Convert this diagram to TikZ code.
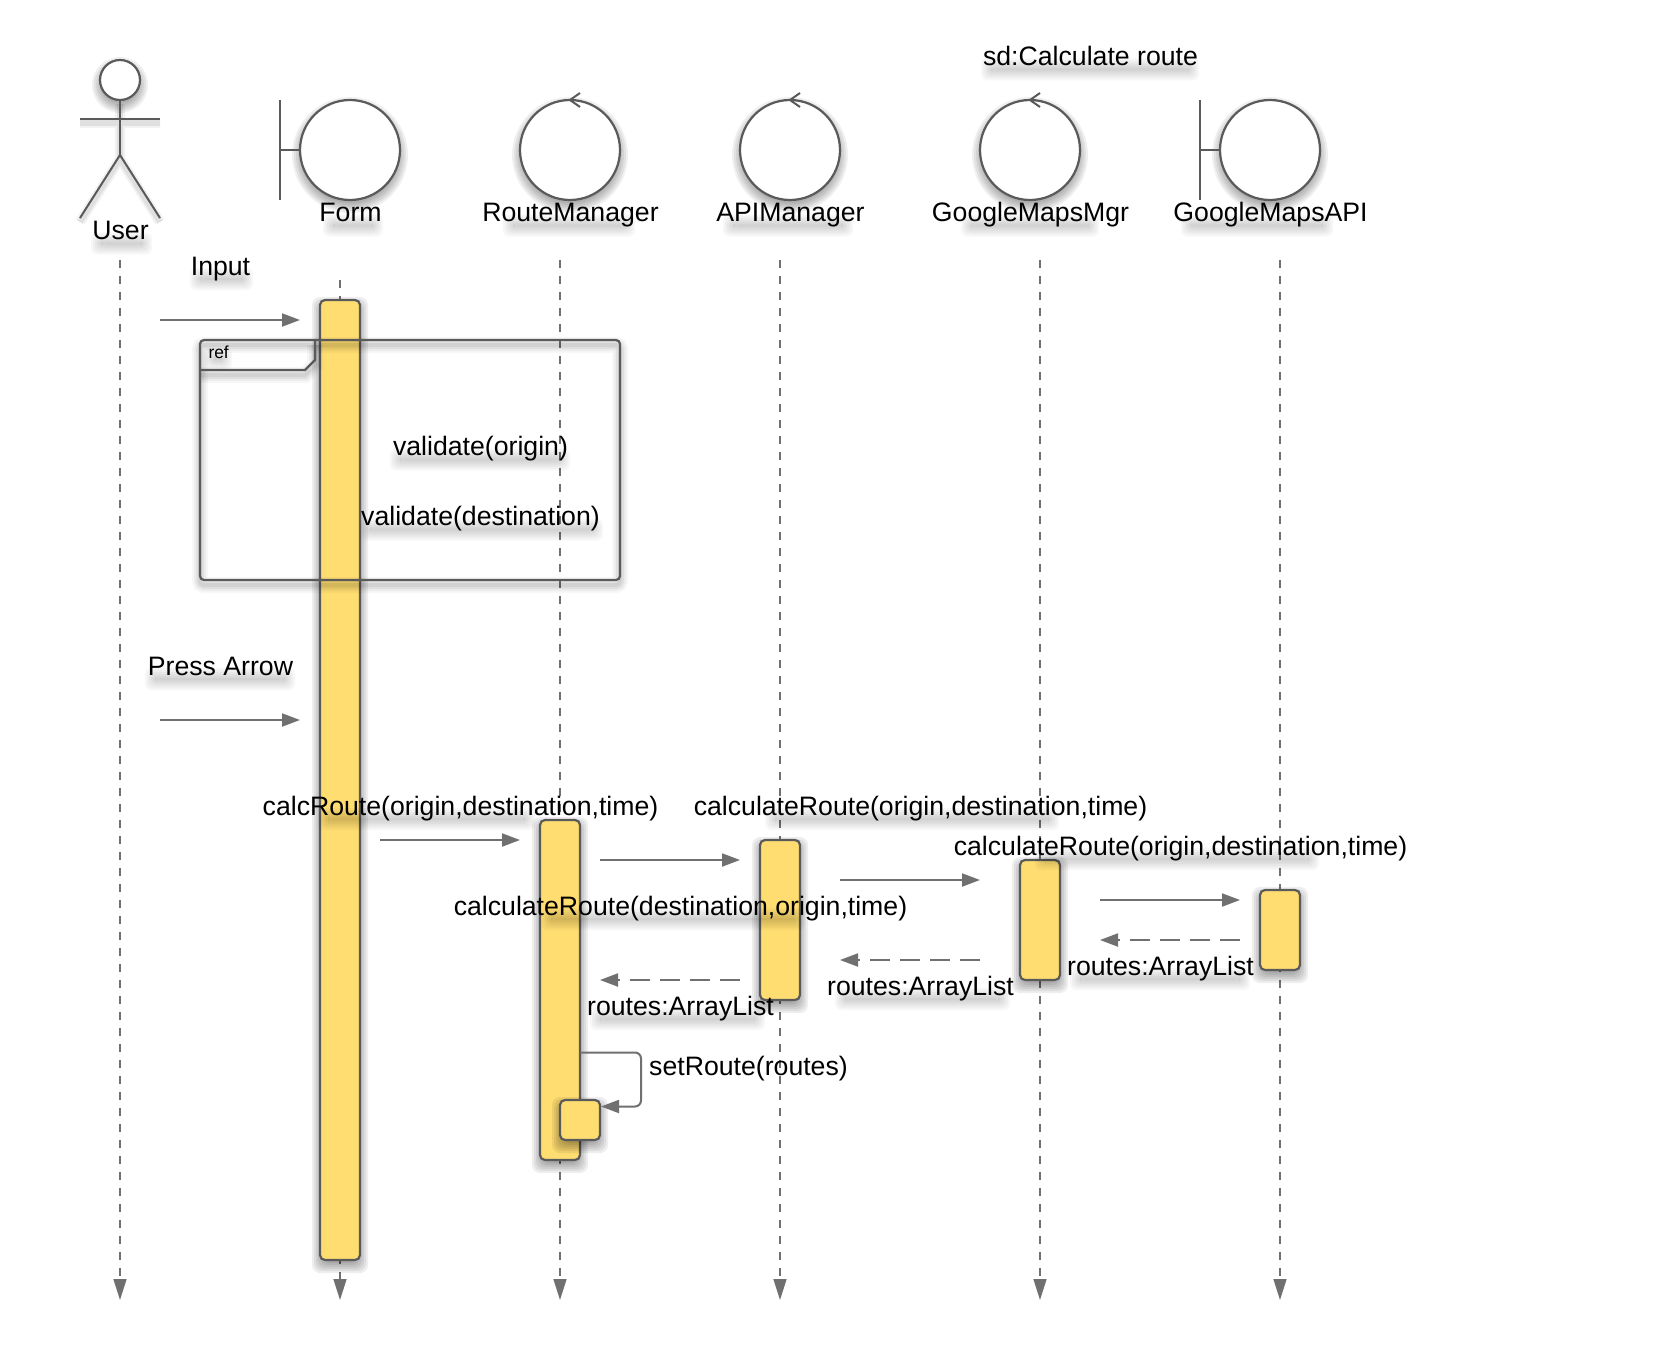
\documentclass[tikz,border=0pt]{standalone}
\usepackage{fontspec}
\setmainfont{Liberation Sans}
\usetikzlibrary{arrows.meta}
\definecolor{barfill}{HTML}{FFDD71}
\definecolor{edgecol}{HTML}{5A5A5A}
\definecolor{msgcol}{HTML}{707070}
\pgfdeclarelayer{bg}
\pgfdeclarelayer{tshad}
\pgfsetlayers{bg,tshad,main}
\tikzset{
  lifeline/.style={draw=msgcol,line width=.75pt,dash pattern=on 4pt off 4pt,-{Triangle[length=10.5pt,width=6.5pt]}},
  msg/.style={draw=msgcol,line width=1pt,-{Triangle[length=9pt,width=6.5pt]}},
  ret/.style={msg,dash pattern=on 10pt off 5pt},
  actbox/.style={draw=edgecol,line width=1.1pt,fill=barfill,rounded corners=2.5pt,inner sep=0pt,outer sep=0pt},
  lifecirc/.style={circle,draw=edgecol,line width=1.1pt,fill=white,minimum size=50pt,inner sep=0pt,outer sep=0pt},
  figline/.style={draw=edgecol,line width=1pt},
  framebox/.style={draw=edgecol,line width=1.1pt,rounded corners=2pt},
  lbl/.style={anchor=base,inner sep=0pt,outer sep=0pt,text=black,font=\fontsize{13.33}{16}\selectfont},
  smalllbl/.style={anchor=base west,inner sep=0pt,outer sep=0pt,text=black,font=\fontsize{8.7}{10}\selectfont},
}
% soft drop shadow of a rectangle
\newcommand\softrect[4]{%
  \foreach \g in {8,6,4,2,0,-2,-4,-6}{%
    \fill[black,fill opacity=.065,rounded corners=4pt] ({#1-\g},{#2-\g+5}) rectangle ({#3+\g},{#4+\g+5});}}
% soft drop shadow of a circle
\newcommand\softcirc[3]{%
  \foreach \g in {8,6,4,2,0,-2,-4,-6}{%
    \fill[black,fill opacity=.06] (#1,{#2+5}) circle[radius={#3+\g}];}}
% soft band under a label
\newcommand\softband[3]{%
  \begin{pgfonlayer}{tshad}
  \foreach \g in {7,5,3,1,-1,-3}{%
    \fill[black,fill opacity=.032,rounded corners=3pt] ({#1-\g},{#3-\g}) rectangle ({#2+\g},{#3+8+\g});}
  \end{pgfonlayer}}
\newcommand\actbar[5]{%
  \softrect{#2}{#3}{#4}{#5}%
  \pgfmathsetmacro\bw{(#4-#2)/2}\pgfmathsetmacro\bh{(#5-#3)/2}%
  \node[actbox,minimum width=\bw pt,minimum height=\bh pt,anchor=north west] (#1) at (#2,#3) {};}
% name, cx, baseline, shadow from, shadow to, text
\newcommand\lab[6]{%
  \softband{#4}{#5}{#3}%
  \node[lbl] (#1) at (#2,#3) {#6};}
\newcommand\ctrlobj[2]{% name, cx
  \softcirc{#2}{150}{50}%
  \node[lifecirc] (#1) at (#2,150) {};
  \draw[figline] ({#2+10},93) -- (#1.north) -- ({#2+10},107);}
\newcommand\bndobj[2]{% name, cx
  \softcirc{#2}{150}{50}%
  \node[lifecirc] (#1) at (#2,150) {};
  \coordinate (#1t) at ({#2-70},100);
  \coordinate (#1b) at ({#2-70},200);
  \coordinate (#1m) at ({#2-70},150);
  \draw[figline,line width=.8pt] (#1t) -- (#1b);
  \draw[figline] (#1m) -- (#1.west);}
\begin{document}
\begin{tikzpicture}[x=.5pt,y=-.5pt]
\useasboundingbox (0,0) rectangle (1660,1354);
\begin{pgfonlayer}{bg}
\fill[white] (0,0) rectangle (1660,1354);

% lifelines
\foreach \n/\x/\t in {a/120/260,b/340/280,c/560/260,d/780/260,e/1040/260,f/1280/260}{
  \coordinate (ls\n) at (\x,\t);
  \coordinate (le\n) at (\x,1300);
  \draw[lifeline] (ls\n) -- (le\n);
}

% actor
\foreach \w/\o in {5/.05,3/.07}{
  \draw[black,line width=\w pt,opacity=\o,shift={(0,4)}] (120,100) -- (120,155) (80,119) -- (160,119) (80,218) -- (120,155) -- (160,218);
}
\softcirc{120}{80}{20}
\node[lifecirc,minimum size=20pt] (head) at (120,80) {};
\coordinate (armL) at (80,119);
\coordinate (armR) at (160,119);
\coordinate (hip) at (120,155);
\coordinate (footL) at (80,218);
\coordinate (footR) at (160,218);
\draw[figline] (head.south) -- (hip);
\draw[figline] (armL) -- (armR);
\draw[figline] (footL) -- (hip) -- (footR);

% objects
\bndobj{formc}{350}
\ctrlobj{routec}{570}
\ctrlobj{apic}{790}
\ctrlobj{mgrc}{1030}
\bndobj{gapic}{1270}

% activation bars and frame
\actbar{formbar}{320}{300}{360}{1260}

\foreach \w/\o in {8/.03,6/.04,4/.05,2/.06}{
  \draw[black,line width=\w pt,opacity=\o,rounded corners=2pt,shift={(0,5)}] (200,340) rectangle (620,580);
  \draw[black,line width=\w pt,opacity=\o,shift={(0,5)}] (200,370) -- (305,370) -- (315,360) -- (315,340);
}
\draw[framebox] (200,340) rectangle (620,580);
\coordinate (tabA) at (200,370);
\coordinate (tabB) at (305,370);
\coordinate (tabC) at (315,360);
\coordinate (tabD) at (315,340);
\draw[figline,line width=1.1pt] (tabA) -- (tabB) -- (tabC) -- (tabD);

\actbar{routebar}{540}{820}{580}{1160}
\actbar{apibar}{760}{840}{800}{1000}
\actbar{mgrbar}{1020}{860}{1060}{980}
\actbar{gapibar}{1260}{890}{1300}{970}
\actbar{selfbar}{560}{1100}{600}{1140}

% messages
\coordinate (m1s) at (160,320);  \coordinate (m1e) at (300,320);
\coordinate (m2s) at (160,720);  \coordinate (m2e) at (300,720);
\coordinate (m3s) at (380,840);  \coordinate (m3e) at (520,840);
\coordinate (m4s) at (600,860);  \coordinate (m4e) at (740,860);
\coordinate (m5s) at (840,880);  \coordinate (m5e) at (980,880);
\coordinate (m6s) at (1100,900); \coordinate (m6e) at (1240,900);
\coordinate (r1s) at (1240,940); \coordinate (r1e) at (1100,940);
\coordinate (r2s) at (980,960);  \coordinate (r2e) at (840,960);
\coordinate (r3s) at (740,980);  \coordinate (r3e) at (600,980);
\foreach \n in {m1,m2,m3,m4,m5,m6}{\draw[msg] (\n s) -- (\n e);}
\foreach \n in {r1,r2,r3}{\draw[ret] (\n s) -- (\n e);}
\coordinate (self1) at (641,1052.5);
\coordinate (self2) at (641,1106.5);
\coordinate (self3) at (601,1106.5);
\draw[msg,rounded corners=3pt] (routebar.east |- self1) -- (self1) -- (self2) -- (self3);
\end{pgfonlayer}

% labels
\lab{tUser}{120.5}{239.5}{98}{145}{User}
\lab{tForm}{350.5}{221.5}{330}{376}{Form}
\lab{tRoute}{570.5}{221.5}{510}{628}{RouteManager}
\lab{tApi}{790.5}{221.5}{730}{846}{APIManager}
\lab{tMgr}{1030.5}{221.5}{968}{1092}{GoogleMapsMgr}
\lab{tGapi}{1270.5}{221.5}{1188}{1326}{GoogleMapsAPI}
\lab{tSd}{1090.5}{65.5}{988}{1192}{sd:Calculate route}
\lab{tInput}{220.5}{275}{197}{246}{Input}
\lab{tValO}{480.5}{455.5}{397}{563}{validate(origin)}
\lab{tValD}{480.5}{525.5}{367}{596}{validate(destination)}
\lab{tPress}{220.5}{675}{152}{288}{Press Arrow}
\lab{tCalc}{460.5}{815}{325}{528}{calcRoute(origin,destination,time)}
\lab{tCalcA}{920.5}{815}{772}{1052}{calculateRoute(origin,destination,time)}
\lab{tCalcB}{1180.5}{855}{1042}{1312}{calculateRoute(origin,destination,time)}
\lab{tCalcC}{680.5}{915}{548}{798}{calculateRoute(destination,origin,time)}
\lab{tRetA}{680.5}{1015}{597}{758}{routes:ArrayList}
\lab{tRetB}{920.5}{995}{842}{1003}{routes:ArrayList}
\lab{tRetC}{1160.5}{975}{1077}{1243}{routes:ArrayList}
\node[lbl] (tSet) at (748.5,1075) {setRoute(routes)};
\softband{211}{225}{355}
\node[smalllbl] (tRef) at (208.5,358) {ref};
\end{tikzpicture}
\end{document}
